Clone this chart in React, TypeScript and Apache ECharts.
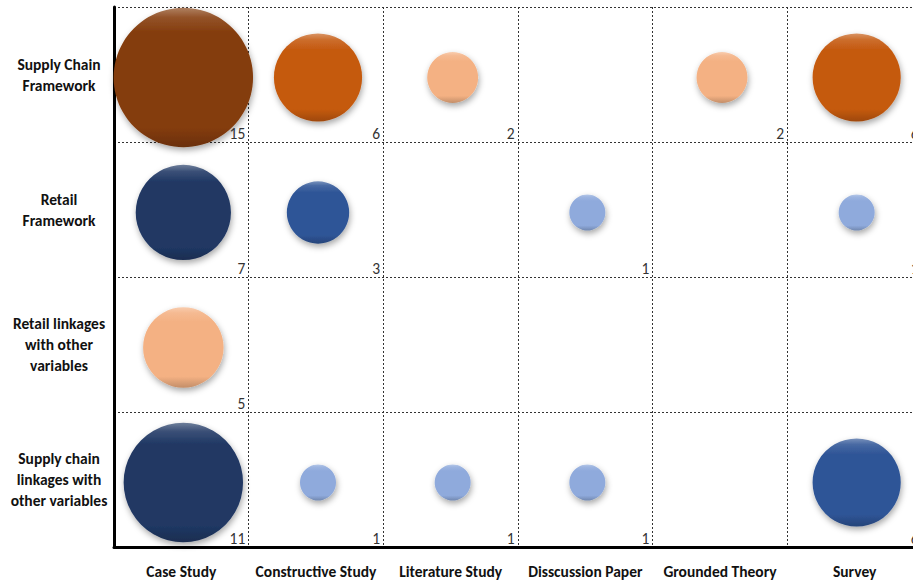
import React, { useEffect, useRef } from "react";
import * as echarts from "echarts";

// Research methods (columns) and topics (rows)
const methods = [
  "Case Study",
  "Constructive Study",
  "Literature Study",
  "Disscussion Paper",
  "Grounded Theory",
  "Survey",
];
const topics = [
  "Supply Chain\nFramework",
  "Retail\nFramework",
  "Retail linkages\nwith other\nvariables",
  "Supply chain\nlinkages with\nother variables",
];

// Counts per topic across methods (0 = no bubble)
const supplyChainFramework = [15, 6, 2, 0, 2, 6];
const retailFramework = [7, 3, 0, 1, 0, 1];
const retailLinkages = [5, 0, 0, 0, 0, 0];
const supplyChainLinkages = [11, 1, 1, 1, 0, 6];
const counts = [supplyChainFramework, retailFramework, retailLinkages, supplyChainLinkages];

// Colour family per row and shade per cell
const rowFamily = ["orange", "blue", "orange", "blue"];
const shadeGrid = [
  ["dark", "mid", "light", "", "light", "mid"],
  ["dark", "mid", "", "light", "", "light"],
  ["light", "", "", "", "", ""],
  ["dark", "light", "light", "light", "", "mid"],
];

const palette: Record<string, Record<string, string>> = {
  orange: { dark: "#843C0C", mid: "#C55A11", light: "#F4B183" },
  blue: { dark: "#203864", mid: "#2F5597", light: "#8FAADC" },
};

function mix(hex: string, target: number, amt: number) {
  const n = parseInt(hex.slice(1), 16);
  const r = (n >> 16) & 255, g = (n >> 8) & 255, b = n & 255;
  const f = (c: number) => Math.round(c + (target - c) * amt);
  return `rgb(${f(r)},${f(g)},${f(b)})`;
}

function bevel(hex: string) {
  return new echarts.graphic.LinearGradient(0, 0, 0, 1, [
    { offset: 0, color: mix(hex, 255, 0.35) },
    { offset: 0.07, color: mix(hex, 255, 0.12) },
    { offset: 0.18, color: hex },
    { offset: 0.86, color: hex },
    { offset: 1, color: mix(hex, 0, 0.2) },
  ]);
}

const FONT = "Carlito, 'Liberation Sans Narrow', 'DejaVu Sans Condensed', sans-serif";

export default function App() {
  const ref = useRef<HTMLDivElement>(null);
  useEffect(() => {
    if (!ref.current) return;
    const chart = echarts.init(ref.current, undefined, { renderer: "svg" });
    const data: any[] = [];
    counts.forEach((row, r) => {
      row.forEach((v, c) => {
        if (v > 0) {
          const color = palette[rowFamily[r]][shadeGrid[r][c]];
          data.push({ value: [c, r, v], itemStyle: { color: bevel(color) } });
        }
      });
    });
    chart.setOption({
      animation: false,
      grid: { left: 114, right: 8, top: 7, bottom: 36 },
      xAxis: {
        type: "category",
        data: methods,
        axisLine: { onZero: false, lineStyle: { color: "#000", width: 3 } },
        axisTick: { show: false },
        axisLabel: {
          interval: 0,
          margin: 16,
          color: "#111",
          fontSize: 15.5,
          fontWeight: "bold",
          fontFamily: FONT,
        },
        splitLine: {
          show: true,
          interval: 0,
          lineStyle: { color: "#333", width: 1, type: [2, 2] },
        },
      },
      yAxis: {
        type: "category",
        data: topics,
        inverse: true,
        axisLine: { lineStyle: { color: "#000", width: 3 } },
        axisTick: { show: false },
        axisLabel: {
          interval: 0,
          margin: 55,
          align: "center",
          color: "#111",
          fontSize: 15.5,
          lineHeight: 21,
          padding: [6, 0, 0, 0],
          fontWeight: "bold",
          fontFamily: FONT,
        },
        splitLine: {
          show: true,
          interval: 0,
          lineStyle: { color: "#333", width: 1, type: [2, 2] },
        },
      },
      series: [
        {
          type: "scatter",
          data,
          symbolSize: (val: number[]) => 36 * Math.sqrt(val[2]),
          symbolOffset: [2, 3],
          itemStyle: {
            opacity: 1,
            shadowBlur: 6,
            shadowColor: "rgba(0,0,0,0.35)",
            shadowOffsetX: 1,
            shadowOffsetY: 3,
          },
          label: {
            show: true,
            position: "inside",
            formatter: (p: any) => String(p.value[2]),
            offset: [62, 56],
            align: "right",
            verticalAlign: "middle",
            color: "#333",
            fontSize: 15.5,
            fontFamily: FONT,
          },
          emphasis: { disabled: true },
        },
      ],
    });
    return () => chart.dispose();
  }, []);
  return (
    <div style={{ position: "absolute", left: 0, top: 0, width: 913, height: 583, overflow: "hidden", background: "#fff" }}>
      <div ref={ref} style={{ width: 930, height: 583 }} />
    </div>
  );
}
